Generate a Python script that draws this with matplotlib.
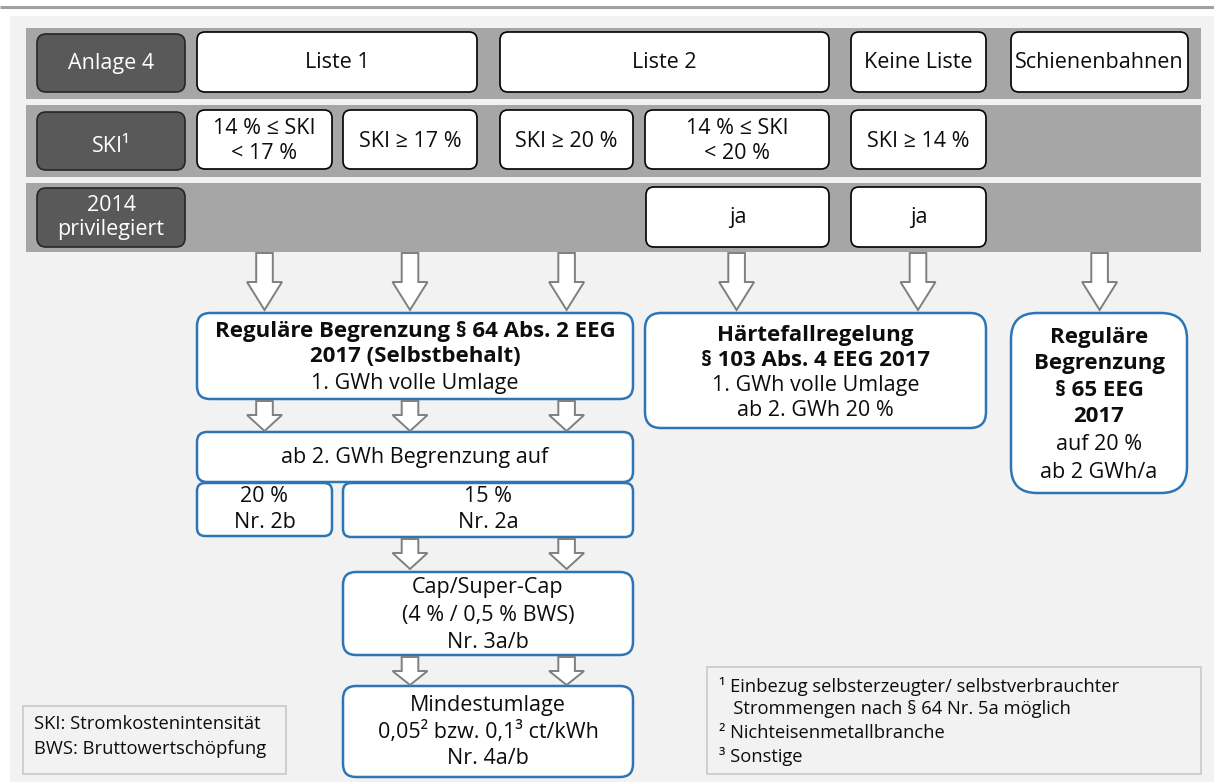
import matplotlib
matplotlib.use('Agg')
import matplotlib.pyplot as plt
from matplotlib.patches import FancyBboxPatch, Rectangle, Polygon

plt.rcParams['font.family'] = ['Open Sans', 'DejaVu Sans']

# ---------------- content ----------------
row_labels = ['Anlage 4', 'SKI¹', '2014\nprivilegiert']
row1_labels = ['Liste 1', 'Liste 2', 'Keine Liste', 'Schienenbahnen']
row2_labels = ['14 % ≤ SKI\n< 17 %', 'SKI ≥ 17 %', 'SKI ≥ 20 %', '14 % ≤ SKI\n< 20 %', 'SKI ≥ 14 %']
row3_labels = ['ja', 'ja']

reg64_bold = ['Reguläre Begrenzung § 64 Abs. 2 EEG', '2017 (Selbstbehalt)']
reg64_norm = ['1. GWh volle Umlage']
ab2_label = 'ab 2. GWh Begrenzung auf'
pct20_label = ['20 %', 'Nr. 2b']
pct15_label = ['15 %', 'Nr. 2a']
cap_label = ['Cap/Super-Cap', '(4 % / 0,5 % BWS)', 'Nr. 3a/b']
mindest_label = ['Mindestumlage', '0,05² bzw. 0,1³ ct/kWh', 'Nr. 4a/b']
haerte_bold = ['Härtefallregelung', '§ 103 Abs. 4 EEG 2017']
haerte_norm = ['1. GWh volle Umlage', 'ab 2. GWh 20 %']
reg65_bold = ['Reguläre', 'Begrenzung', '§ 65 EEG', '2017']
reg65_norm = ['auf 20 %', 'ab 2 GWh/a']
abbrev_lines = ['SKI: Stromkostenintensität', 'BWS: Bruttowertschöpfung']
footnote_lines = ['¹ Einbezug selbsterzeugter/ selbstverbrauchter',
                  '   Strommengen nach § 64 Nr. 5a möglich',
                  '² Nichteisenmetallbranche',
                  '³ Sonstige']

# ---------------- styles ----------------
BG = '#f2f2f2'
BAND = '#a6a6a6'
DARK = '#595959'
BLUE = '#2e75b6'
ARROW_EDGE = '#7f7f7f'
FS = 15.5
FS_BOLD = 16
FS_SMALL = 13.2

W, H = 1214, 782
fig = plt.figure(figsize=(W / 100, H / 100), dpi=100)
ax = fig.add_axes([0, 0, 1, 1])
ax.set_xlim(0, W)
ax.set_ylim(H, 0)
ax.axis('off')

# top rule and background
ax.plot([0, W], [7, 7], color='#a0a0a0', lw=2.2, solid_capstyle='butt')
ax.add_patch(Rectangle((10, 16), W - 10, H - 16, facecolor=BG, edgecolor='none'))


def rbox(x0, y0, x1, y1, fc='white', ec='black', lw=1.2, r=8, z=2):
    ax.add_patch(FancyBboxPatch((x0, y0), x1 - x0, y1 - y0,
                                boxstyle=f'round,pad=0,rounding_size={r}',
                                facecolor=fc, edgecolor=ec, lw=lw, zorder=z))


def txt(x, y, s, size=FS, color='#0d0d0d', weight='normal', ha='center', va='center'):
    ax.text(x, y, s, fontsize=size, color=color, weight=weight, ha=ha, va=va,
            linespacing=1.22, zorder=5)


def arrow(cx, top, head, tip, shaft=8.3, half=17.5):
    pts = [(cx - shaft, top), (cx + shaft, top), (cx + shaft, head), (cx + half, head),
           (cx, tip), (cx - half, head), (cx - shaft, head)]
    ax.add_patch(Polygon(pts, closed=True, facecolor='white', edgecolor=ARROW_EDGE,
                         lw=1.4, joinstyle='miter', zorder=3))


# bands
bands = [(28, 99), (105, 177), (183, 252)]
for y0, y1 in bands:
    ax.add_patch(Rectangle((26, y0), 1201 - 26, y1 - y0, facecolor=BAND, edgecolor='none', zorder=1))

# dark row headers
dark_y = [(34, 92), (112, 170), (188, 247)]
for (y0, y1), lab in zip(dark_y, row_labels):
    rbox(37, y0, 185, y1, fc=DARK, ec='#262626', lw=1.2, r=9)
    txt(111, (y0 + y1) / 2 + (6 if lab.startswith('SKI') else 0), lab, color='white')

# row 1
row1_x = [(197, 477), (500, 829), (851, 986), (1011, 1188)]
for (x0, x1), lab in zip(row1_x, row1_labels):
    rbox(x0, 32, x1, 92, r=8)
    txt((x0 + x1) / 2, 62, lab)

# row 2
row2_x = [(197, 332), (343, 477), (500, 633), (645, 829), (851, 986)]
for (x0, x1), lab in zip(row2_x, row2_labels):
    rbox(x0, 110, x1, 169, r=8)
    txt((x0 + x1) / 2, 141, lab)

# row 3
row3_x = [(646, 829), (851, 986)]
for (x0, x1), lab in zip(row3_x, row3_labels):
    rbox(x0, 187, x1, 247, r=8)
    txt((x0 + x1) / 2, 217, lab)

# big arrows
for cx in [264.5, 410, 566.6, 736.6, 918, 1099.6]:
    arrow(cx, 253, 282, 310)
# small arrows
for cx in [264.5, 410, 566.6]:
    arrow(cx, 401, 415, 431)
for cx in [410, 566.6]:
    arrow(cx, 539, 553, 569)
    arrow(cx, 657, 671, 685)

# blue boxes
rbox(197, 313, 633, 399, ec=BLUE, lw=1.8, r=13)
for y, s in zip([331, 357], reg64_bold):
    txt(415, y, s, size=FS_BOLD, weight='bold')
txt(415, 384, reg64_norm[0])

rbox(197, 432, 633, 482, ec=BLUE, lw=1.8, r=10)
txt(415, 457, ab2_label)

rbox(197, 483, 332, 536, ec=BLUE, lw=1.8, r=8)
txt(264.5, 497, pct20_label[0])
txt(264.5, 523, pct20_label[1])

rbox(343, 483, 633, 537, ec=BLUE, lw=1.8, r=8)
txt(488, 497, pct15_label[0])
txt(488, 523, pct15_label[1])

rbox(343, 572, 633, 655, ec=BLUE, lw=1.8, r=13)
for y, s in zip([588, 615, 642], cap_label):
    txt(488, y, s)

rbox(343, 686, 633, 777, ec=BLUE, lw=1.8, r=13)
for y, s in zip([705, 732, 758], mindest_label):
    txt(488, y, s)

rbox(645, 313, 986, 428, ec=BLUE, lw=1.8, r=16)
for y, s in zip([336, 360], haerte_bold):
    txt(815.5, y, s, size=FS_BOLD, weight='bold')
for y, s in zip([385, 410], haerte_norm):
    txt(815.5, y, s)

rbox(1011, 313, 1187, 493, ec=BLUE, lw=1.8, r=26)
for y, s in zip([337, 364, 391, 417], reg65_bold):
    txt(1099, y, s, size=FS_BOLD, weight='bold')
for y, s in zip([444, 472], reg65_norm):
    txt(1099, y, s)

# abbreviation box
ax.add_patch(Rectangle((22.5, 706), 286 - 22.5, 774 - 706, facecolor=BG, edgecolor='#c8c8c8', lw=1.2, zorder=2))
for y, s in zip([724, 749], abbrev_lines):
    txt(34, y, s, size=FS_SMALL, ha='left')

# footnote box
ax.add_patch(Rectangle((707, 667), 1201 - 707, 774 - 667, facecolor=BG, edgecolor='#c8c8c8', lw=1.2, zorder=2))
for y, s in zip([687, 709, 733, 757], footnote_lines):
    txt(719, y, s, size=FS_SMALL, ha='left')

fig.savefig('out.png', dpi=100, facecolor='white')
